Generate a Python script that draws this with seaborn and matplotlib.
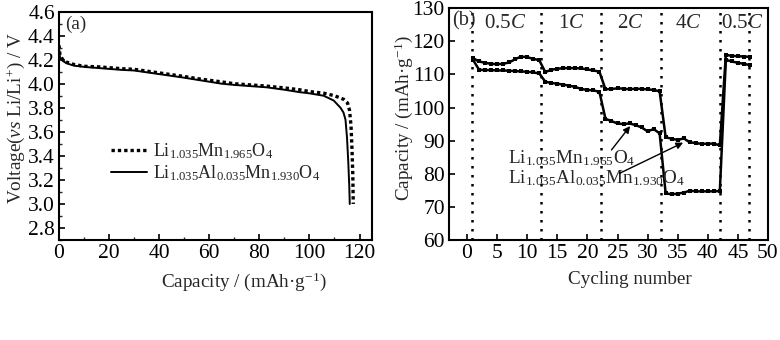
import numpy as np
import pandas as pd
import matplotlib
matplotlib.use("Agg")
import matplotlib.pyplot as plt
import seaborn as sns

# ---------------- data ----------------
# panel (a): discharge curves
cap_undoped = [0, 0.4, 1.5, 3, 6, 10, 16, 25, 30, 40, 50, 56, 65, 70, 83, 90, 96,
               100, 106, 110, 113.7, 115.2, 116.0, 116.6, 117.0, 117.3, 117.5]
volt_undoped = [4.32, 4.24, 4.20, 4.18, 4.16, 4.145, 4.14, 4.125, 4.12, 4.09, 4.06,
                4.04, 4.015, 4.00, 3.98, 3.965, 3.95, 3.935, 3.92, 3.90, 3.87, 3.84,
                3.78, 3.65, 3.45, 3.25, 3.00]
cap_al = [0, 0.4, 1.5, 3, 6, 10, 16, 25, 30, 40, 50, 56, 65, 70, 83, 90, 96, 100,
          105.7, 109.7, 112.4, 113.6, 114.4, 115.0, 115.5, 115.9, 116.1]
volt_al = [4.30, 4.22, 4.19, 4.17, 4.15, 4.14, 4.13, 4.115, 4.11, 4.08, 4.05, 4.03,
           4.00, 3.99, 3.97, 3.95, 3.93, 3.92, 3.90, 3.86, 3.80, 3.76, 3.70, 3.55,
           3.35, 3.15, 3.00]

# panel (b): rate capability
cycles = list(range(1, 48))
cap_b_al = [114.9, 113.9, 113.5, 113.2, 113.1, 113.2, 113.6, 114.6, 115.4, 115.2,
            114.7, 114.3,
            110.7, 111.4, 111.7, 111.9, 111.9, 111.9, 111.8, 111.5, 111.2, 110.8,
            105.5, 105.6, 105.8, 105.7, 105.5, 105.7, 105.6, 105.5, 105.3, 104.9,
            91.0, 90.6, 90.2, 90.7, 89.5, 89.3, 89.0, 89.1, 89.1, 88.6,
            115.9, 115.6, 115.5, 115.4, 115.3]
cap_b_undoped = [114.4, 111.4, 111.3, 111.3, 111.2, 111.2, 111.1, 111.0, 110.9, 110.8,
                 110.6, 110.3,
                 107.8, 107.4, 107.2, 106.9, 106.6, 106.2, 105.6, 105.3, 105.2, 104.7,
                 96.6, 95.9, 95.2, 95.0, 95.2, 94.7, 94.0, 92.8, 93.5, 92.2,
                 74.1, 73.8, 74.0, 74.3, 74.9, 74.7, 74.7, 74.7, 74.7, 74.8,
                 114.4, 113.9, 113.5, 113.2, 112.8]
rate_bounds = [0.8, 12.3, 22.3, 32.2, 42.1, 46.8]
rate_labels = ["0.5$C$", "1$C$", "2$C$", "4$C$", "0.5$C$"]
rate_label_x = [6.3, 17.4, 27.1, 36.7, 45.7]

label_undoped = "Li$_{1.035}$Mn$_{1.965}$O$_4$"
label_al = "Li$_{1.035}$Al$_{0.035}$Mn$_{1.930}$O$_4$"

# ---------------- style ----------------
sns.set_theme(style="ticks")
plt.rcParams["font.family"] = ["Liberation Serif", "DejaVu Serif"]
plt.rcParams["mathtext.fontset"] = "custom"
plt.rcParams["mathtext.rm"] = "Liberation Serif"
plt.rcParams["mathtext.it"] = "Liberation Serif:italic"
plt.rcParams["mathtext.bf"] = "Liberation Serif:bold"
plt.rcParams["axes.unicode_minus"] = True
TFS = 15.5   # tick labels
LFS = 13.8   # axis labels
GFS = 13.0   # legend
AFS = 13.8   # annotations

fig = plt.figure(figsize=(7.8, 3.4), dpi=100)
ax1 = fig.add_axes([0.0756, 0.294, 0.4014, 0.672])
ax2 = fig.add_axes([0.5756, 0.294, 0.409, 0.682])

for ax in (ax1, ax2):
    for s in ax.spines.values():
        s.set_linewidth(1.5)
        s.set_color("black")
    ax.tick_params(direction="in", length=4, width=1.2, labelsize=TFS, colors="black",
                   pad=3)
    ax.tick_params(which="minor", direction="in", length=2.5, width=1.0)

# ---------------- panel (a) ----------------
df_u = pd.DataFrame({"cap": cap_undoped, "v": volt_undoped})
df_a = pd.DataFrame({"cap": cap_al, "v": volt_al})
sns.lineplot(data=df_u, x="cap", y="v", ax=ax1, color="black", lw=2.4,
             linestyle=(0, (1, 0.9)), sort=False, label=label_undoped)
sns.lineplot(data=df_a, x="cap", y="v", ax=ax1, color="black", lw=1.4,
             sort=False, label=label_al)
ax1.set_xlim(0, 125)
ax1.set_ylim(2.7, 4.6)
ax1.set_xticks(np.arange(0, 121, 20))
ax1.set_xticks(np.arange(10, 121, 20), minor=True)
ax1.set_yticks(np.arange(2.8, 4.61, 0.2))
ax1.set_yticks(np.arange(2.7, 4.61, 0.1), minor=True)
ax1.set_yticklabels([f"{v:.1f}" for v in np.arange(2.8, 4.61, 0.2)])
ax1.set_xlabel("Capacity / (mAh·g$^{-1}$)", fontsize=LFS)
ax1.xaxis.set_label_coords(0.59, -0.135)
ax1.set_ylabel("Voltage($vs$ Li/Li$^{+}$) / V", fontsize=LFS)
ax1.yaxis.set_label_coords(-0.103, 0.533)
ax1.text(0.02, 0.945, "(a)", transform=ax1.transAxes, fontsize=AFS, va="center",
         ha="left")
leg = ax1.legend(loc="center left", bbox_to_anchor=(0.165, 0.34), frameon=False,
                 fontsize=GFS, handlelength=2.0, handletextpad=0.35,
                 labelspacing=0.1, borderpad=0, borderaxespad=0)

# ---------------- panel (b) ----------------
df_b = pd.DataFrame({
    "cycle": cycles * 2,
    "cap": cap_b_undoped + cap_b_al,
    "sample": ["undoped"] * len(cycles) + ["al"] * len(cycles),
})
sns.lineplot(data=df_b, x="cycle", y="cap", units="sample", estimator=None, ax=ax2,
             color="black", lw=1.8, marker="s", markersize=3.2, markeredgewidth=0,
             sort=False, legend=False)
for xb in rate_bounds:
    ax2.axvline(xb, color="black", lw=1.8, linestyle=(0, (1, 2.6)), zorder=1)
for xl, lab in zip(rate_label_x, rate_labels):
    ax2.text(xl, 125.3, lab, fontsize=15, ha="center", va="center")
ax2.text(0.01, 0.945, "(b)", transform=ax2.transAxes, fontsize=14.5, va="center",
         ha="left")
ax2.set_xlim(-3, 50)
ax2.set_ylim(60, 130)
ax2.set_xticks(np.arange(0, 51, 5))
ax2.set_yticks(np.arange(60, 131, 10))
ax2.set_xlabel("Cycling number", fontsize=LFS)
ax2.xaxis.set_label_coords(0.567, -0.135)
ax2.set_ylabel("Capacity / (mAh·g$^{-1}$)", fontsize=LFS)
ax2.yaxis.set_label_coords(-0.108, 0.526)

ax2.text(6.8, 84.7, label_undoped, fontsize=AFS, ha="left", va="center")
ax2.text(6.8, 78.6, label_al, fontsize=AFS, ha="left", va="center")
ax2.annotate("", xy=(27.1, 94.4), xytext=(24.0, 87.2),
             arrowprops=dict(arrowstyle="-|>", color="black", lw=1.0,
                             mutation_scale=10, shrinkA=0, shrinkB=0))
ax2.annotate("", xy=(35.9, 89.4), xytext=(25.3, 80.1),
             arrowprops=dict(arrowstyle="-|>", color="black", lw=1.0,
                             mutation_scale=10, shrinkA=0, shrinkB=0))

fig.savefig("out.png", dpi=100)
